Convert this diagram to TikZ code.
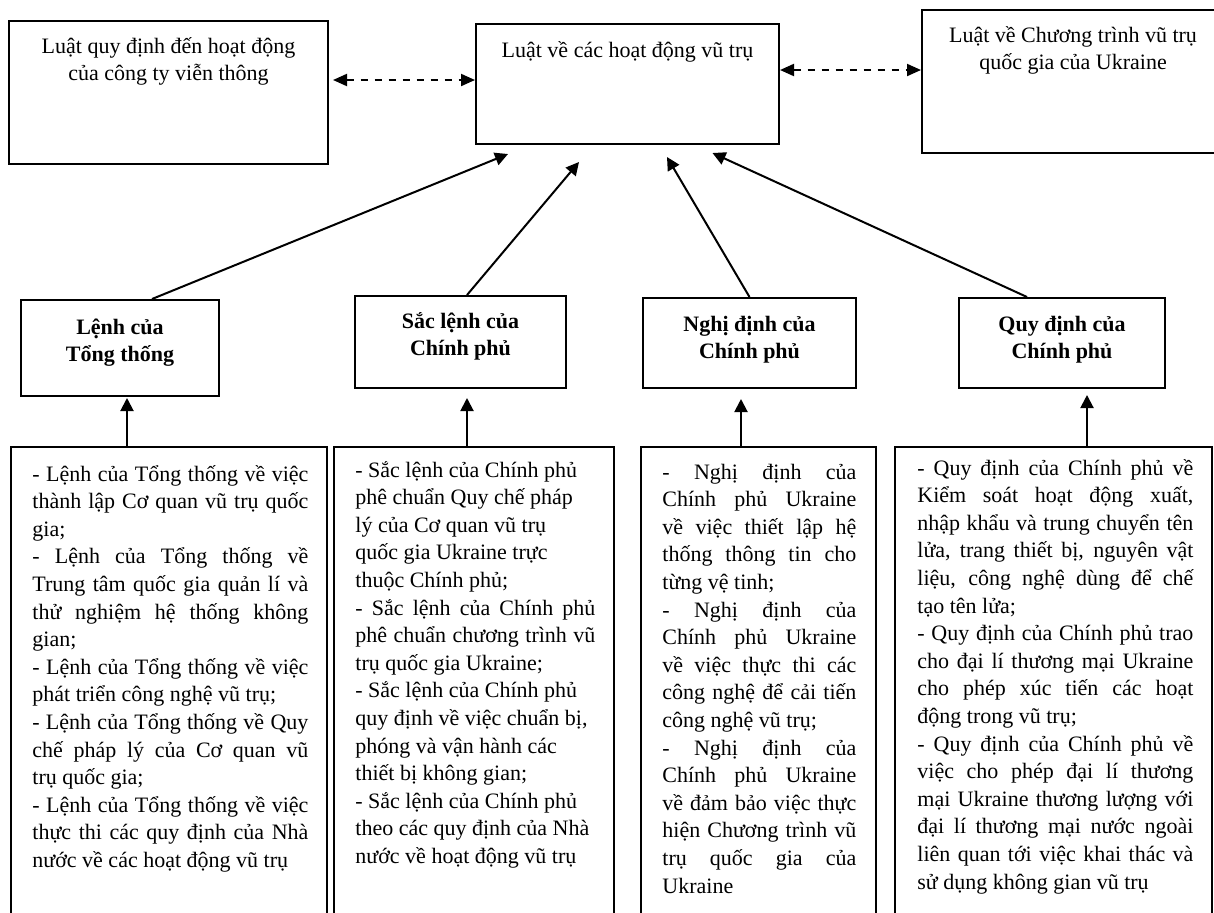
\documentclass[tikz,border=0pt]{standalone}
\usepackage{fontspec}
\setmainfont{Liberation Serif}
\usetikzlibrary{arrows.meta}
\newcommand\jl[1]{\hbox to\hsize{#1}}
\newcommand\rl[1]{\hbox to\hsize{#1\hfil}}
\newcommand\cl[1]{\hbox to\hsize{\hfil#1\hfil}}
\newcommand\tblock[2]{\vtop{\hsize=#1\baselineskip=13.8pt\lineskiplimit=-100pt\lineskip=0pt #2}}
\begin{document}
\begin{tikzpicture}[x=0.5pt,y=-0.5pt,
  box/.style={draw, line width=1pt, inner sep=0pt, rectangle},
  arr/.style={line width=1pt, -{Triangle[length=6.5pt,width=6.5pt]}},
  darr/.style={line width=1pt, dash pattern=on 3.5pt off 3.5pt, {Triangle[length=7pt,width=6pt]}-{Triangle[length=7pt,width=6pt]}},
  txt/.style={inner sep=0pt, font=\fontsize{11pt}{13.8pt}\selectfont},
  ttl/.style={inner sep=0pt, font=\fontsize{11pt}{13.8pt}\selectfont\bfseries}]
\useasboundingbox (0,0) rectangle (1214,912);
\fill[white] (0,0) rectangle (1214,912);
\clip (0,0) rectangle (1214,912);

% top row
\node[box, minimum width=159.5pt, minimum height=71.5pt] (top1) at (168.5,92.5) {};
\node[box, minimum width=151.5pt, minimum height=60pt] (top2) at (627.5,84) {};
\node[box, minimum width=151pt, minimum height=71.5pt] (top3) at (1073,81.5) {};
\node[txt, anchor=base] (top1t) at (168.5,53) {\tblock{150pt}{\cl{Luật quy định đến hoạt động}\cl{của công ty viễn thông}}};
\node[txt, anchor=base] (top2t) at (627.5,57) {Luật về các hoạt động vũ trụ};
\node[txt, anchor=base] (top3t) at (1073,42) {\tblock{150pt}{\cl{Luật về Chương trình vũ trụ}\cl{quốc gia của Ukraine}}};

% middle row
\node[box, minimum width=99pt, minimum height=48pt] (l1) at (120,348) {};
\node[box, minimum width=105.5pt, minimum height=46pt] (l2) at (460.5,342) {};
\node[box, minimum width=106.5pt, minimum height=45pt] (l3) at (749.5,343) {};
\node[box, minimum width=103pt, minimum height=45pt] (l4) at (1062,343) {};
\node[ttl, anchor=base] (l1t) at (120,334) {\tblock{90pt}{\cl{Lệnh của}\cl{Tổng thống}}};
\node[ttl, anchor=base] (l2t) at (460.5,328) {\tblock{90pt}{\cl{Sắc lệnh của}\cl{Chính phủ}}};
\node[ttl, anchor=base] (l3t) at (749.5,331) {\tblock{90pt}{\cl{Nghị định của}\cl{Chính phủ}}};
\node[ttl, anchor=base] (l4t) at (1062,331) {\tblock{90pt}{\cl{Quy định của}\cl{Chính phủ}}};

% bottom row
\node[box, minimum width=158pt, minimum height=246.5pt] (b1) at (169,693.5) {};
\node[box, minimum width=140pt, minimum height=246.5pt] (b2) at (474,693.5) {};
\node[box, minimum width=117.5pt, minimum height=246.5pt] (b3) at (758.5,693.5) {};
\node[box, minimum width=158.5pt, minimum height=246.5pt] (b4) at (1053.5,693.5) {};

\node[txt, anchor=base west] (b1t) at (32,481) {\tblock{138pt}{%
\jl{- Lệnh của Tổng thống về việc}
\jl{thành lập Cơ quan vũ trụ quốc}
\rl{gia;}
\jl{- Lệnh của Tổng thống về}
\jl{Trung tâm quốc gia quản lí và}
\jl{thử nghiệm hệ thống không}
\rl{gian;}
\jl{- Lệnh của Tổng thống về việc}
\rl{phát triển công nghệ vũ trụ;}
\jl{- Lệnh của Tổng thống về Quy}
\jl{chế pháp lý của Cơ quan vũ}
\rl{trụ quốc gia;}
\jl{- Lệnh của Tổng thống về việc}
\jl{thực thi các quy định của Nhà}
\rl{nước về các hoạt động vũ trụ}}};

\node[txt, anchor=base west] (b2t) at (355,477) {\tblock{120pt}{%
\rl{- Sắc lệnh của Chính phủ}
\rl{phê chuẩn Quy chế pháp}
\rl{lý của Cơ quan vũ trụ}
\rl{quốc gia Ukraine trực}
\rl{thuộc Chính phủ;}
\jl{- Sắc lệnh của Chính phủ}
\jl{phê chuẩn chương trình vũ}
\rl{trụ quốc gia Ukraine;}
\rl{- Sắc lệnh của Chính phủ}
\rl{quy định về việc chuẩn bị,}
\rl{phóng và vận hành các}
\rl{thiết bị  không gian;}
\rl{- Sắc lệnh của Chính phủ}
\rl{theo các quy định của Nhà}
\rl{nước về hoạt động vũ trụ}}};

\node[txt, anchor=base west] (b3t) at (662,479) {\tblock{97pt}{%
\jl{- Nghị định của}
\jl{Chính phủ Ukraine}
\jl{về việc thiết lập hệ}
\jl{thống thông tin cho}
\rl{từng vệ tinh;}
\jl{- Nghị định của}
\jl{Chính phủ Ukraine}
\jl{về việc thực thi các}
\jl{công nghệ để cải tiến}
\rl{công nghệ vũ trụ;}
\jl{- Nghị định của}
\jl{Chính phủ Ukraine}
\jl{về đảm bảo việc thực}
\jl{hiện Chương trình vũ}
\jl{trụ quốc gia của}
\rl{Ukraine}}};

\node[txt, anchor=base west] (b4t) at (917,475) {\tblock{138pt}{%
\jl{- Quy định của Chính phủ về}
\jl{Kiểm soát hoạt động xuất,}
\jl{nhập khẩu và trung chuyển tên}
\jl{lửa, trang thiết bị, nguyên vật}
\jl{liệu, công nghệ dùng để chế}
\rl{tạo tên lửa;}
\jl{- Quy định của Chính phủ trao}
\jl{cho đại lí thương mại Ukraine}
\jl{cho phép xúc tiến các hoạt}
\rl{động trong vũ trụ;}
\jl{- Quy định của Chính phủ về}
\jl{việc cho phép đại lí thương}
\jl{mại Ukraine thương lượng với}
\jl{đại lí thương mại nước ngoài}
\jl{liên quan tới việc khai thác và}
\rl{sử dụng không gian vũ trụ}}};

% dashed connectors
\draw[darr, shorten <=2pt] ([yshift=6.25pt]top1.east) -- ([yshift=2pt]top2.west);
\draw[darr] ([yshift=7pt]top2.east) -- ([yshift=5.75pt]top3.west);

% middle to top
\draw[arr] ([xshift=16pt]l1.north) -- ([xshift=-59.75pt,yshift=-4.5pt]top2.south);
\draw[arr] ([xshift=3.25pt]l2.north) -- ([xshift=-24.25pt,yshift=-8.5pt]top2.south);
\draw[arr] (l3.north) -- ([xshift=19.75pt,yshift=-6pt]top2.south);
\draw[arr] ([xshift=-17.5pt]l4.north) -- ([xshift=42.5pt,yshift=-4pt]top2.south);

% bottom to middle
\draw[arr, shorten >=0.5pt] ([xshift=-21pt]b1.north) -- ([xshift=3.5pt]l1.south);
\draw[arr, shorten >=4.5pt] ([xshift=-3.5pt]b2.north) -- ([xshift=3.25pt]l2.south);
\draw[arr, shorten >=5pt] ([xshift=-8.75pt]b3.north) -- ([xshift=-4.25pt]l3.south);
\draw[arr, shorten >=3pt] ([xshift=16.75pt]b4.north) -- ([xshift=12.5pt]l4.south);
\end{tikzpicture}
\end{document}
